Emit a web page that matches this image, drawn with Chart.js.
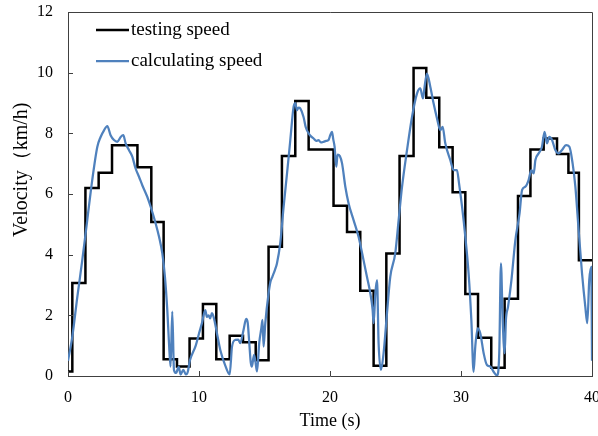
<!DOCTYPE html>
<html>
<head>
<meta charset="utf-8">
<script src="https://cdn.jsdelivr.net/npm/chart.js@4.4.1/dist/chart.umd.min.js"></script>
<style>
  body { margin: 0; background: #fff; }
</style>
</head>
<body>
<canvas id="speedChart" width="598" height="436"></canvas>
<script>
// testing speed: time where each step starts, and the speed it steps to
const stepTime = [0, 0.33, 1.33, 2.34, 3.36, 5.3, 6.36, 7.3, 8.32, 9.28, 10.3, 11.32, 12.34, 13.36,
  14.33, 15.31, 16.33, 17.35, 18.37, 20.27, 21.3, 22.31, 23.33, 24.3, 25.31, 26.38, 27.35, 28.34,
  29.36, 30.33, 31.3, 32.31, 33.33, 34.35, 35.3, 36.31, 37.33, 38.2, 39.0, 40];
const stepSpeed = [0.15, 3.07, 6.2, 6.7, 7.61, 6.88, 5.08, 0.55, 0.31, 1.24, 2.37, 0.55, 1.33, 1.11,
  0.52, 4.26, 7.25, 9.07, 7.47, 5.61, 4.75, 2.81, 0.34, 4.04, 7.25, 10.15, 9.17, 7.54,
  6.06, 2.7, 1.26, 0.27, 2.55, 5.93, 7.47, 7.83, 7.32, 6.7, 3.82, 3.82];

// calculating speed
const calcTime = [0, 0.33, 0.71, 1.09, 1.47, 1.85, 2.24, 2.49, 2.75, 3.0, 3.25, 3.51, 3.76, 4.02, 4.22,
  4.4, 4.65, 4.91, 5.16, 5.42, 5.67, 6.05, 6.31, 6.69, 6.95, 7.2, 7.4, 7.58, 7.71, 7.83, 7.96, 8.09,
  8.25, 8.45, 8.6, 8.8, 9.0, 9.15, 9.3, 9.75, 10.0, 10.23, 10.48, 10.6, 10.73, 10.85, 10.99, 11.17,
  11.37, 11.63, 12.0, 12.34, 12.52, 12.77, 13.0, 13.15, 13.4, 13.6, 13.72, 13.82, 13.95, 14.04, 14.2,
  14.3, 14.43, 14.6, 14.75, 14.85, 14.93, 15.06, 15.31, 15.45, 15.6, 15.8, 15.95, 16.2, 16.46, 16.72,
  16.97, 17.22, 17.35, 17.48, 17.6, 17.73, 17.98, 18.15, 18.37, 18.55, 18.75, 18.95, 19.13, 19.3,
  19.51, 19.7, 19.89, 20.02, 20.15, 20.25, 20.35, 20.48, 20.58, 20.75, 20.92, 21.17, 21.42, 21.8,
  22.18, 22.56, 22.82, 23.08, 23.25, 23.33, 23.46, 23.59, 23.71, 23.89, 24.09, 24.35, 24.6, 24.98,
  25.24, 25.5, 25.88, 26.26, 26.64, 26.89, 27.1, 27.22, 27.4, 27.66, 27.91, 28.17, 28.42, 28.6, 28.8,
  29.18, 29.44, 29.69, 29.85, 30.08, 30.33, 30.58, 30.79, 30.96, 31.09, 31.27, 31.47, 31.73, 31.98,
  32.24, 32.49, 32.75, 32.92, 33.05, 33.18, 33.33, 33.43, 33.59, 33.85, 34.15, 34.47, 34.66, 34.91,
  35.16, 35.37, 35.55, 35.68, 35.93, 36.18, 36.38, 36.56, 36.74, 36.95, 37.2, 37.45, 37.71, 38.02,
  38.27, 38.52, 38.73, 38.98, 39.24, 39.49, 39.64, 39.79, 39.95, 40];
const calcSpeed = [0.5, 1.3, 2.6, 3.82, 5.14, 6.46, 7.56, 7.88, 8.1, 8.24, 7.94, 7.78, 7.72, 7.88, 7.94,
  7.67, 7.45, 7.23, 6.84, 6.57, 6.29, 5.91, 5.58, 5.03, 4.59, 4.04, 3.27, 2.17, 1.08, 0.31, 2.12, 0.2,
  0.1, 0.3, 0.05, 0.2, 0.05, 0.15, 0.5, 1.0, 1.4, 1.75, 2.17, 1.95, 2.0, 1.9, 2.07, 1.85,
  1.41, 0.85, 0.35, 0.05, 0.97, 1.19, 1.2, 1.08, 1.52, 1.88, 1.75, 1.2, 0.45, 0.31, 0.7,
  0.5, 0.15, 1.1, 1.55, 1.85, 0.97, 1.74, 2.72, 3.1, 3.27, 3.5, 3.71, 4.37, 5.58, 6.68,
  7.78, 8.87, 9.0, 8.76, 8.85, 8.82, 8.54, 8.2, 8.0, 7.9, 7.83, 7.75, 7.78, 7.7,
  7.72, 7.75, 7.78, 7.94, 8.05, 7.8, 7.56, 6.9, 7.3, 7.25, 7.01, 6.24, 5.69, 5.14,
  4.59, 3.82, 3.27, 2.72, 2.2, 1.74, 2.72, 3.16, 1.08, 0.2, 0.75, 2.07, 3.27, 4.04,
  5.14, 6.24, 7.45, 8.54, 9.31, 9.48, 9.15, 9.53, 9.97, 9.53, 8.98, 8.49, 8.1, 8.21, 7.67,
  7.12, 6.79, 6.79, 6.35, 5.58, 4.59, 3.38, 1.85, 0.14, 0.97, 1.57, 1.41, 0.75, 0.36,
  0.31, 0.14, 0.02, 0.75, 3.71, 1.85, 0.75, 1.85, 2.28, 3.16, 4.48, 5.36, 6.13, 6.24,
  6.46, 6.79, 6.68, 7.12, 7.34, 7.56, 8.05, 7.67, 7.88, 7.78, 7.45, 7.34, 7.45, 7.61,
  7.56, 7.01, 6.24, 4.81, 3.38, 2.28, 1.74, 3.16, 3.6, 0.5];

const xTicks = [0, 10, 20, 30, 40];
const yTicks = [0, 2, 4, 6, 8, 10, 12];
const yTitle = "Velocity（km/h)";

const serif = "'Liberation Serif', 'Times New Roman', serif";
const axisColor = "#404040";

function toPoints(xs, ys) {
  return xs.map((x, i) => ({ x: x, y: ys[i] }));
}

// frame on top/right, short tick marks pointing into the plot, legend and y title
const frameAndTicks = {
  id: "frameAndTicks",
  afterDraw(chart) {
    const { ctx, chartArea: a, scales } = chart;
    ctx.save();
    ctx.strokeStyle = axisColor;
    ctx.lineWidth = 1;
    ctx.beginPath();
    ctx.moveTo(a.left, a.top + 0.5);
    ctx.lineTo(a.right + 0.5, a.top + 0.5);
    ctx.lineTo(a.right + 0.5, a.bottom);
    xTicks.forEach((t) => {
      const px = Math.round(scales.x.getPixelForValue(t)) + 0.5;
      ctx.moveTo(px, a.bottom);
      ctx.lineTo(px, a.bottom - 5);
    });
    yTicks.forEach((t) => {
      const py = Math.round(scales.y.getPixelForValue(t)) + 0.5;
      ctx.moveTo(a.left, py);
      ctx.lineTo(a.left + 5, py);
    });
    ctx.stroke();

    // legend inside the plot, top left
    ctx.font = "19px " + serif;
    ctx.textBaseline = "middle";
    ctx.fillStyle = "#000";
    chart.data.datasets.forEach((ds, i) => {
      const rowY = a.top + 18 + i * 31;
      ctx.strokeStyle = ds.borderColor;
      ctx.lineWidth = ds.borderWidth;
      ctx.beginPath();
      ctx.moveTo(a.left + 28, rowY);
      ctx.lineTo(a.left + 61, rowY);
      ctx.stroke();
      ctx.fillText(ds.label, a.left + 63, rowY);
    });

    // y title sits above the middle of the axis in the original
    ctx.font = "20px " + serif;
    ctx.textAlign = "center";
    ctx.translate(22, scales.y.getPixelForValue(6.8));
    ctx.rotate(-Math.PI / 2);
    ctx.fillText(yTitle, 0, 0);
    ctx.restore();
  },
};

new Chart(document.getElementById("speedChart"), {
  type: "line",
  data: {
    datasets: [
      {
        label: "testing speed",
        data: toPoints(stepTime, stepSpeed),
        borderColor: "#000000",
        borderWidth: 2.5,
        stepped: "before",
        pointRadius: 0,
        order: 1,
      },
      {
        label: "calculating speed",
        data: toPoints(calcTime, calcSpeed),
        borderColor: "#4f81bd",
        borderWidth: 2.25,
        cubicInterpolationMode: "monotone",
        pointRadius: 0,
        order: 0,
      },
    ],
  },
  options: {
    responsive: false,
    animation: false,
    layout: { padding: { top: 12, right: 6 } },
    plugins: {
      legend: { display: false },
      tooltip: { enabled: false },
    },
    scales: {
      x: {
        type: "linear",
        min: 0,
        max: 40,
        afterBuildTicks: (s) => { s.ticks = xTicks.map((v) => ({ value: v })); },
        ticks: { font: { family: serif, size: 16 }, color: "#000", padding: 12 },
        grid: { drawOnChartArea: false, drawTicks: false },
        border: { color: axisColor, width: 1 },
        title: {
          display: true,
          text: "Time (s)",
          font: { family: serif, size: 18 },
          color: "#000",
          padding: { top: 0, bottom: 4 },
        },
        afterFit: (s) => {
          s.height = 60;
          s.paddingLeft = 0;
          s.paddingRight = 0;
        },
      },
      y: {
        type: "linear",
        min: 0,
        max: 12,
        afterBuildTicks: (s) => { s.ticks = yTicks.map((v) => ({ value: v })); },
        ticks: { font: { family: serif, size: 16 }, color: "#000", padding: 15 },
        grid: { drawOnChartArea: false, drawTicks: false },
        border: { color: axisColor, width: 1 },
        afterFit: (s) => {
          s.width = 68;
          s.paddingTop = 0;
          s.paddingBottom = 0;
        },
      },
    },
  },
  plugins: [frameAndTicks],
});
</script>
</body>
</html>
